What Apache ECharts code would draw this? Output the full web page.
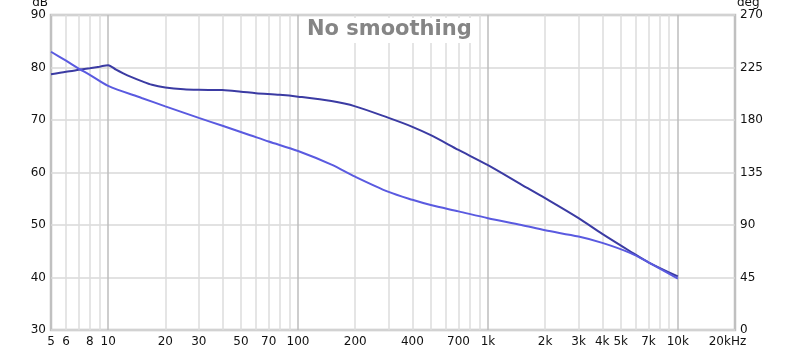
<!DOCTYPE html>
<html>
<head>
<meta charset="utf-8">
<script src="https://cdn.jsdelivr.net/npm/echarts@6/dist/echarts.min.js"></script>
<style>html,body{margin:0;padding:0;background:#fff}#c{width:800px;height:352px}</style>
</head>
<body>
<div id="c"></div>
<script>
// Frequency (Hz) / level readings
const splFreq = [5,6,7,8,9,10,11,12,13,15,17,20,25,30,40,50,60,80,100,150,200,300,400,500,700,1000,1500,2000,3000,4000,5600,7000,10000];
const splDb   = [78.7,79.2,79.55,79.85,80.15,80.45,79.6,78.9,78.3,77.4,76.7,76.2,75.85,75.75,75.7,75.4,75.1,74.8,74.45,73.6,72.6,70.4,68.7,67.1,64.3,61.4,57.7,55.1,51.3,48.3,45.0,42.9,40.2];
const phFreq  = [5,6,7,8,10,15,20,30,40,56,70,100,150,200,300,400,500,700,1000,1500,2000,3000,4000,5600,7000,10000];
const phDb    = [83.0,81.3,79.8,78.6,76.5,74.2,72.6,70.4,68.9,67.1,65.9,64.1,61.5,59.2,56.3,54.8,53.8,52.6,51.3,50.0,49.0,47.8,46.6,44.7,42.9,39.8];
const xLabelValues = [5,6,8,10,20,30,50,70,100,200,400,700,1000,2000,3000,4000,5000,7000,10000,20000];
const majorGrid = [10,100,1000,10000];
const minorGrid = [6,7,8,9,20,30,40,50,60,70,80,90,200,300,400,500,600,700,800,900,2000,3000,4000,5000,6000,7000,8000,9000];
const leftTicks = [30,40,50,60,70,80,90];
const rightTicks = [0,45,90,135,180,225,270];

const chart = echarts.init(document.getElementById('c'), null, {renderer:'canvas'});
const font = 'DejaVu Sans';
function fmtHz(v){
  v = Math.round(v*1000)/1000;
  if (v >= 20000) return '{hz|20kHz}';
  if (v >= 1000) return (Math.round(v/100)/10) + 'k';
  return String(Math.round(v));
}
const zip = (a,b)=>a.map((x,i)=>[x,b[i]]);
chart.setOption({
  animation:false,
  backgroundColor:'#fff',
  title:{
    text:'No smoothing',
    left:301, top:18, z:100,
    padding:[1,6,3,6],
    backgroundColor:'#fff',
    textStyle:{fontFamily:font, fontSize:21, fontWeight:'bold', color:'#858585'}
  },
  grid:{left:51,right:65,top:15,bottom:22,show:true,borderColor:'#c0c0c0',borderWidth:2.5,
        backgroundColor:'transparent',outerBoundsMode:'none',containLabel:false},
  xAxis:[
    {type:'log',logBase:10,min:5,max:20000,position:'bottom',
     axisLine:{show:false},axisTick:{show:false,customValues:minorGrid},
     axisLabel:{show:false},
     splitLine:{show:true,lineStyle:{color:'#dcdcdc',width:1.5}}},
    {type:'log',logBase:10,min:5,max:20000,position:'bottom',offset:0,
     axisLine:{show:false},axisTick:{show:false,customValues:majorGrid},
     axisLabel:{show:true,customValues:xLabelValues,formatter:fmtHz,margin:6,
       fontFamily:font,fontSize:12,color:'#111',
       rich:{hz:{fontFamily:font,fontSize:12,color:'#111',padding:[0,15,0,0]}}},
     splitLine:{show:true,lineStyle:{color:'#bcbcbc',width:1.5}}}
  ],
  yAxis:[
    {type:'value',min:30,max:90,interval:10,name:'dB',nameLocation:'end',nameGap:1,
     nameTextStyle:{fontFamily:font,fontSize:12,color:'#111',align:'right',padding:[0,3,0,0]},
     axisLine:{show:false},axisTick:{show:false},
     axisLabel:{customValues:leftTicks,margin:5,fontFamily:font,fontSize:12,color:'#111'},
     splitLine:{show:true,lineStyle:{color:'#d8d8d8',width:1.5}}},
    {type:'value',min:0,max:270,interval:45,position:'right',name:'deg',nameLocation:'end',nameGap:1,
     nameTextStyle:{fontFamily:font,fontSize:12,color:'#111',align:'left',padding:[0,0,0,2]},
     axisLine:{show:false},axisTick:{show:false},
     axisLabel:{customValues:rightTicks,margin:5,fontFamily:font,fontSize:12,color:'#111'},
     splitLine:{show:false}}
  ],
  series:[
    {type:'line',name:'SPL',xAxisIndex:1,yAxisIndex:0,data:zip(splFreq,splDb),
     showSymbol:false,smooth:0.3,lineStyle:{color:'#3b3ba3',width:2},z:3},
    {type:'line',name:'Phase',xAxisIndex:1,yAxisIndex:0,data:zip(phFreq,phDb),
     showSymbol:false,smooth:0.3,lineStyle:{color:'#5a5ae0',width:2},z:4}
  ]
});
</script>
</body>
</html>
